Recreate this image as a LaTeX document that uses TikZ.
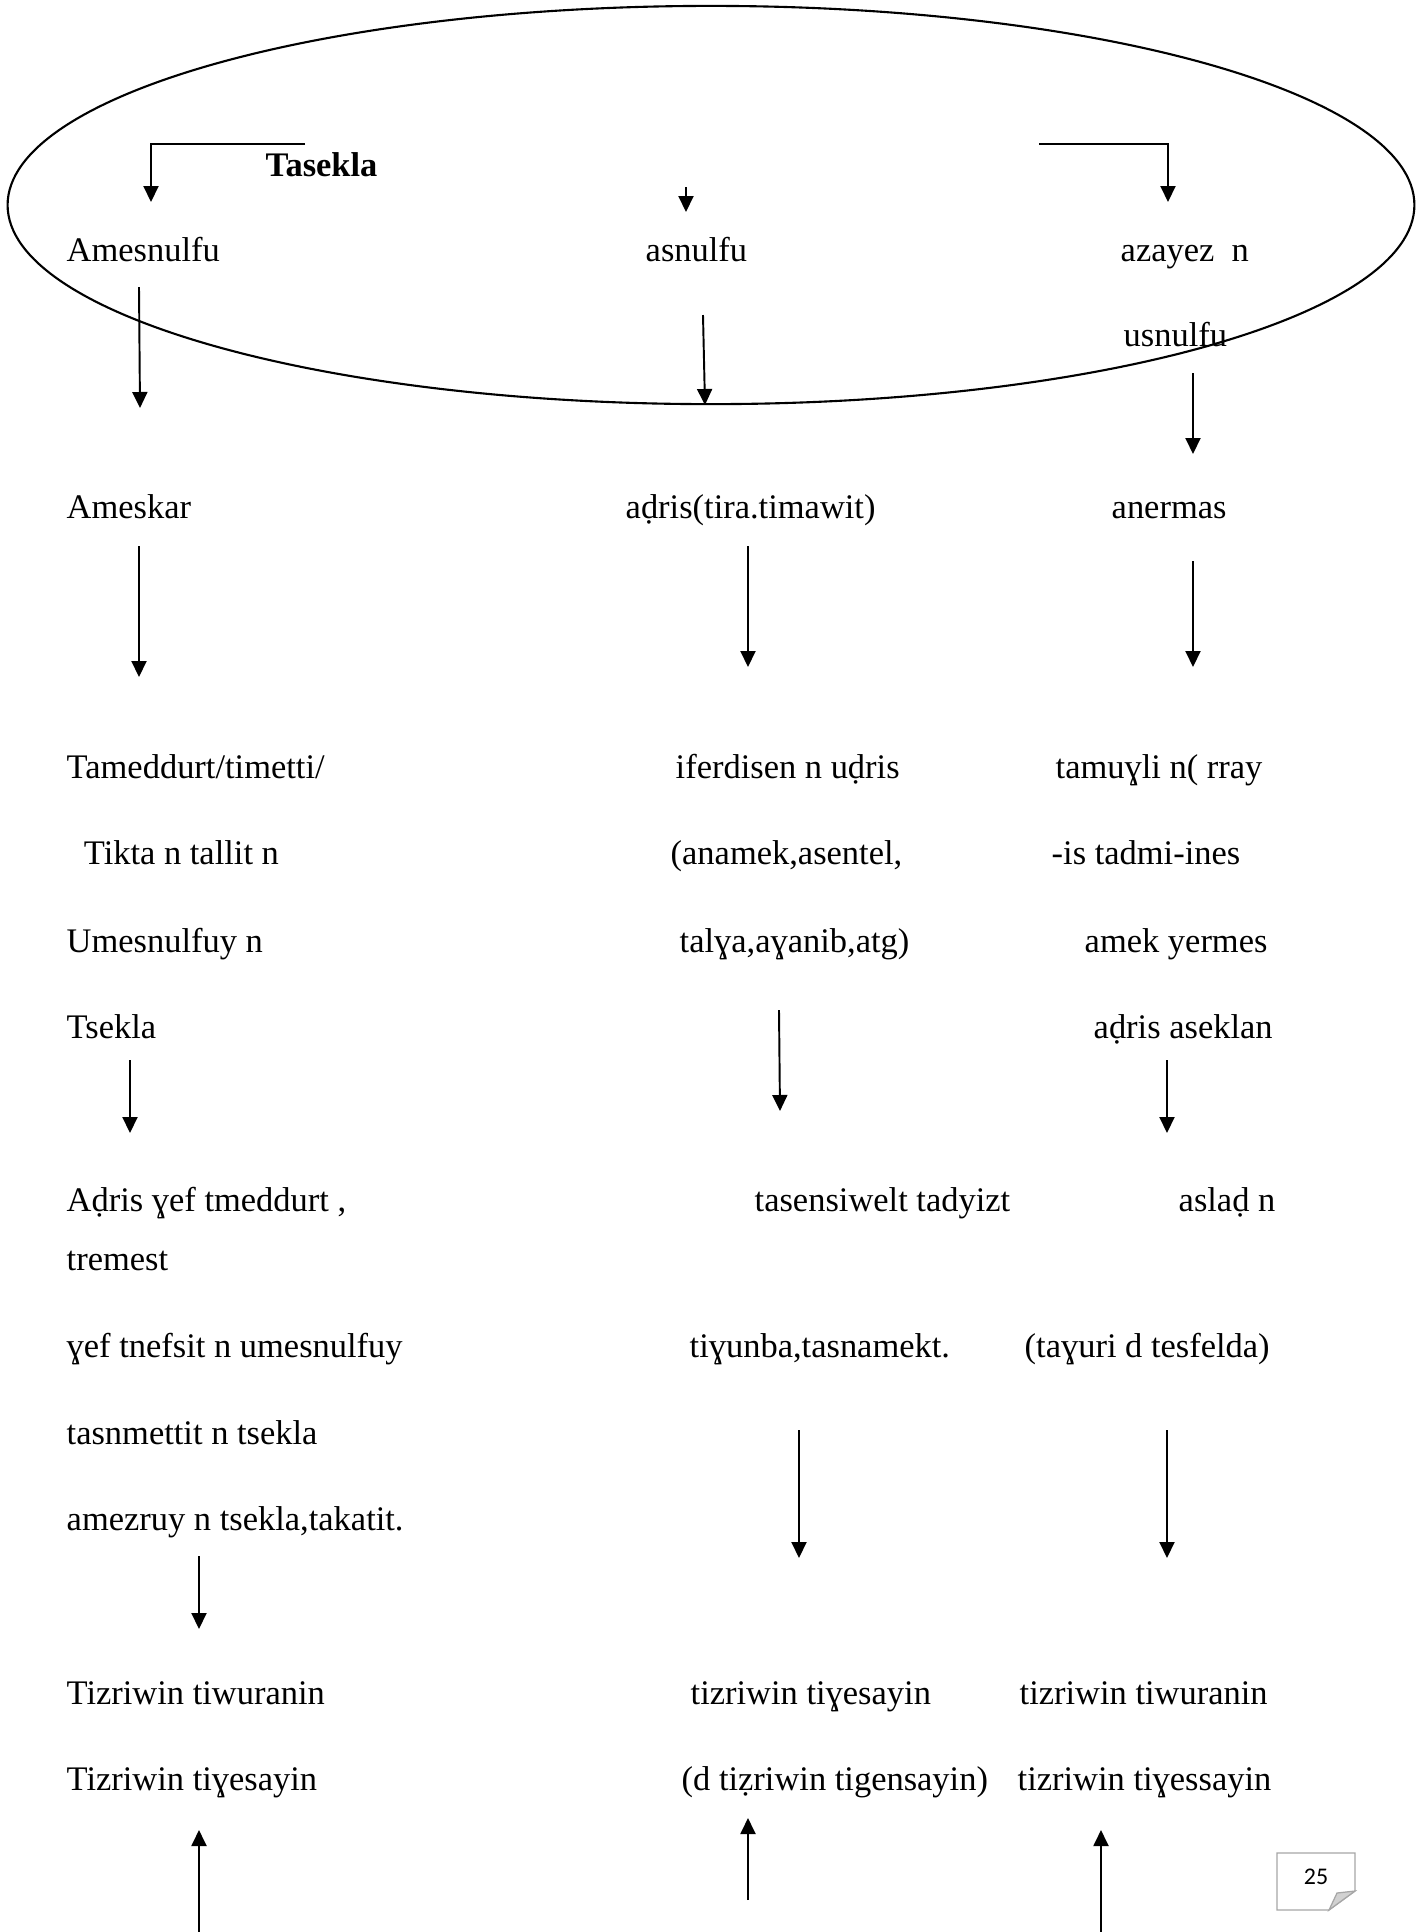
\documentclass[tikz,border=0pt]{standalone}
\usepackage{fontspec}
\setmainfont{Liberation Serif}
\newfontfamily\pagenumfont{Carlito}
\usetikzlibrary{arrows.meta,shapes.geometric}
\begin{document}
\begin{tikzpicture}[x=0.01cm,y=-0.01cm,
  lbl/.style={anchor=base west, inner sep=0pt, font=\fontsize{9.8}{11}\selectfont},
  arr/.style={-{Triangle[length=0.16cm,width=0.15cm]}, line width=0.55pt},
  pagebox/.style={draw=black!35, line width=0.35pt}]
\useasboundingbox[fill=white] (0,0) rectangle (1420,1932);

% ellipse
\node[draw, line width=0.6pt, ellipse, minimum width=14.06cm, minimum height=3.98cm, inner sep=0pt] (ell) at (711,205) {};

% title
\node[lbl, font=\fontsize{9.8}{11}\selectfont\bfseries] (title) at (265,176) {Tasekla};

% row 1
\node[lbl] (t1a) at (66,261) {Amesnulfu};
\node[lbl] (t1b) at (645,261) {asnulfu};
\node[lbl] (t1c) at (1120,261) {azayez\ \ n};
\node[lbl] (t1d) at (1123,346) {usnulfu};

% row 2
\node[lbl] (t2a) at (66,518) {Ameskar};
\node[lbl] (t2b) at (625,518) {aḍris(tira.timawit)};
\node[lbl] (t2c) at (1111,518) {anermas};

% row 3 block
\node[lbl] (t3a) at (66,778) {Tameddurt/timetti/};
\node[lbl] (t3b) at (66,864) {\ \ Tikta n tallit n};
\node[lbl] (t3c) at (66,952) {Umesnulfuy n};
\node[lbl] (t3d) at (66,1038) {Tsekla};
\node[lbl] (m3a) at (675,778) {iferdisen n uḍris};
\node[lbl] (m3b) at (670,864) {(anamek,asentel,};
\node[lbl] (m3c) at (679,952) {talɣa,aɣanib,atg)};
\node[lbl] (r3a) at (1055,778) {tamuɣli n( rray};
\node[lbl] (r3b) at (1051,864) {-is tadmi-ines};
\node[lbl] (r3c) at (1084,952) {amek yermes};
\node[lbl] (r3d) at (1093,1038) {aḍris aseklan};

% row 4 block
\node[lbl] (t4a) at (66,1211) {Aḍris ɣef tmeddurt ,};
\node[lbl] (t4b) at (66,1270) {tremest};
\node[lbl] (t4c) at (66,1357) {ɣef tnefsit n umesnulfuy};
\node[lbl] (t4d) at (66,1444) {tasnmettit n tsekla};
\node[lbl] (t4e) at (66,1530) {amezruy n tsekla,takatit.};
\node[lbl] (m4a) at (754,1211) {tasensiwelt tadyizt};
\node[lbl] (m4b) at (689,1357) {tiɣunba,tasnamekt.};
\node[lbl] (r4a) at (1178,1211) {aslaḍ n};
\node[lbl] (r4b) at (1024,1357) {(taɣuri d tesfelda)};

% row 5 block
\node[lbl] (t5a) at (66,1704) {Tizriwin tiwuranin};
\node[lbl] (t5b) at (66,1790) {Tizriwin tiɣesayin};
\node[lbl] (m5a) at (690,1704) {tizriwin tiɣesayin};
\node[lbl] (m5b) at (681,1790) {(d tiẓriwin tigensayin)};
\node[lbl] (r5a) at (1019,1704) {tizriwin tiwuranin};
\node[lbl] (r5b) at (1017,1790) {tizriwin tiɣessayin};

% arrow coordinates
\coordinate (bl0) at (305,144); \coordinate (bl1) at (151,144); \coordinate (bl2) at (151,202);
\coordinate (br0) at (1039,144); \coordinate (br1) at (1168,144); \coordinate (br2) at (1168,202);
\coordinate (bm1) at (686,187); \coordinate (bm2) at (686,212);
\coordinate (a1s) at (139,287); \coordinate (a1e) at (140,408);
\coordinate (b1s) at (703,315); \coordinate (b1e) at (705,405);
\coordinate (c1s) at (1193,373); \coordinate (c1e) at (1193,454);
\coordinate (a2s) at (139,546); \coordinate (a2e) at (139,677);
\coordinate (b2s) at (748,546); \coordinate (b2e) at (748,667);
\coordinate (c2s) at (1193,561); \coordinate (c2e) at (1193,667);
\coordinate (a3s) at (130,1060); \coordinate (a3e) at (130,1133);
\coordinate (b3s) at (779,1010); \coordinate (b3e) at (780,1111);
\coordinate (c3s) at (1167,1060); \coordinate (c3e) at (1167,1133);
\coordinate (b4s) at (799,1430); \coordinate (b4e) at (799,1558);
\coordinate (c4s) at (1167,1430); \coordinate (c4e) at (1167,1558);
\coordinate (a4s) at (199,1556); \coordinate (a4e) at (199,1629);
\coordinate (a5s) at (199,1932); \coordinate (a5e) at (199,1830);
\coordinate (b5s) at (748,1900); \coordinate (b5e) at (748,1818);
\coordinate (c5s) at (1101,1932); \coordinate (c5e) at (1101,1830);

\draw[arr] (bl0) -- (bl1) -- (bl2);
\draw[arr] (br0) -- (br1) -- (br2);
\draw[arr] (bm1) -- (bm2);
\foreach \p in {a1,b1,c1,a2,b2,c2,a3,b3,c3,a4,b4,c4,a5,b5,c5}
  \draw[arr] (\p s) -- (\p e);

% page number
\draw[pagebox, fill=white] (1277,1853) -- (1355,1853) -- (1355,1891) -- (1329,1910) -- (1277,1910) -- cycle;
\draw[pagebox, fill=black!18] (1355,1891) -- (1329,1910) -- (1337,1893) -- cycle;
\node[inner sep=0pt, font=\pagenumfont\fontsize{6.8}{8}\selectfont] (pg) at (1316,1877) {25};
\end{tikzpicture}
\end{document}
